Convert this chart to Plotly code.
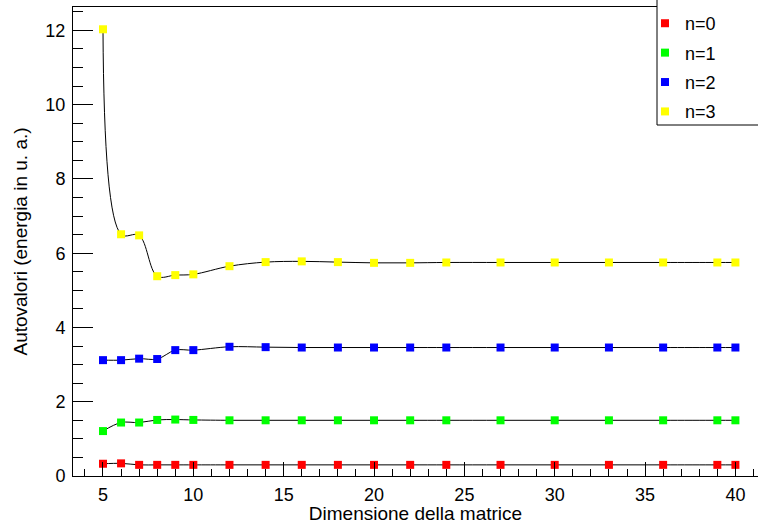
import plotly.graph_objects as go

dims = [5, 6, 7, 8, 9, 10, 12, 14, 16, 18, 20, 22, 24, 27, 30, 33, 36, 39, 40]
n0 = [0.33, 0.34, 0.30, 0.30, 0.30, 0.30, 0.30, 0.30, 0.30, 0.30, 0.30, 0.30, 0.30, 0.30, 0.30, 0.30, 0.30, 0.30, 0.30]
n1 = [1.21, 1.44, 1.44, 1.51, 1.52, 1.51, 1.50, 1.50, 1.50, 1.50, 1.50, 1.50, 1.50, 1.50, 1.50, 1.50, 1.50, 1.50, 1.50]
n2 = [3.12, 3.12, 3.16, 3.15, 3.39, 3.39, 3.48, 3.47, 3.46, 3.46, 3.46, 3.46, 3.46, 3.46, 3.46, 3.46, 3.46, 3.46, 3.46]
n3 = [12.03, 6.51, 6.48, 5.38, 5.41, 5.43, 5.65, 5.76, 5.78, 5.76, 5.74, 5.74, 5.75, 5.75, 5.75, 5.75, 5.75, 5.75, 5.75]

series = [("n=0", n0, "#ff0000"), ("n=1", n1, "#00ff00"),
          ("n=2", n2, "#0000ff"), ("n=3", n3, "#ffff00")]

FONT = "Liberation Sans, Arial, sans-serif"

fig = go.Figure()
for name, vals, col in series:
    fig.add_trace(go.Scatter(x=dims, y=vals, mode="lines",
                             line=dict(color="black", width=1, shape="spline", smoothing=1),
                             showlegend=False, hoverinfo="skip"))
for name, vals, col in series:
    fig.add_trace(go.Scatter(x=dims, y=vals, mode="markers", name=name,
                             legendgroup=name,
                             marker=dict(symbol="square", size=8, color=col,
                                         line=dict(width=0))))

# legend frame (ROOT-style box)
fig.add_shape(type="rect", xref="paper", yref="paper",
              x0=(657 - 73) / 685, x1=1.02, y0=(476 - 125) / 469, y1=1.03,
              line=dict(color="black", width=1), fillcolor="white", layer="above")

fig.update_layout(
    width=758, height=524,
    margin=dict(l=73, r=0, t=7, b=48),
    paper_bgcolor="white", plot_bgcolor="white",
    font=dict(family=FONT, size=18, color="black"),
    showlegend=True,
    legend=dict(x=(645 - 73) / 685, y=1.0042, xanchor="left", yanchor="top",
                bgcolor="rgba(0,0,0,0)", borderwidth=0,
                font=dict(size=18), tracegroupgap=3,
                itemsizing="trace"),
    xaxis=dict(range=[3.34, 41.25], showgrid=False, zeroline=False,
               showline=True, linecolor="black", linewidth=1, mirror=True,
               ticks="inside", tickmode="linear", tick0=0, dtick=5,
               ticklen=14, tickcolor="black",
               minor=dict(ticks="inside", dtick=1, ticklen=7, tickcolor="black"),
               ticklabelstandoff=2,
               title=dict(text="Dimensione della matrice", font=dict(size=19), standoff=2)),
    yaxis=dict(range=[0, 12.63], showgrid=False, zeroline=False,
               showline=True, linecolor="black", linewidth=1,
               ticks="inside", tickmode="linear", tick0=0, dtick=2,
               ticklen=20, tickcolor="black",
               minor=dict(ticks="inside", dtick=0.5, ticklen=10, tickcolor="black"),
               ticklabelstandoff=3,
               title=dict(text="Autovalori (energia in u. a.)", font=dict(size=19), standoff=12)),
)

fig.write_html("out.html")
